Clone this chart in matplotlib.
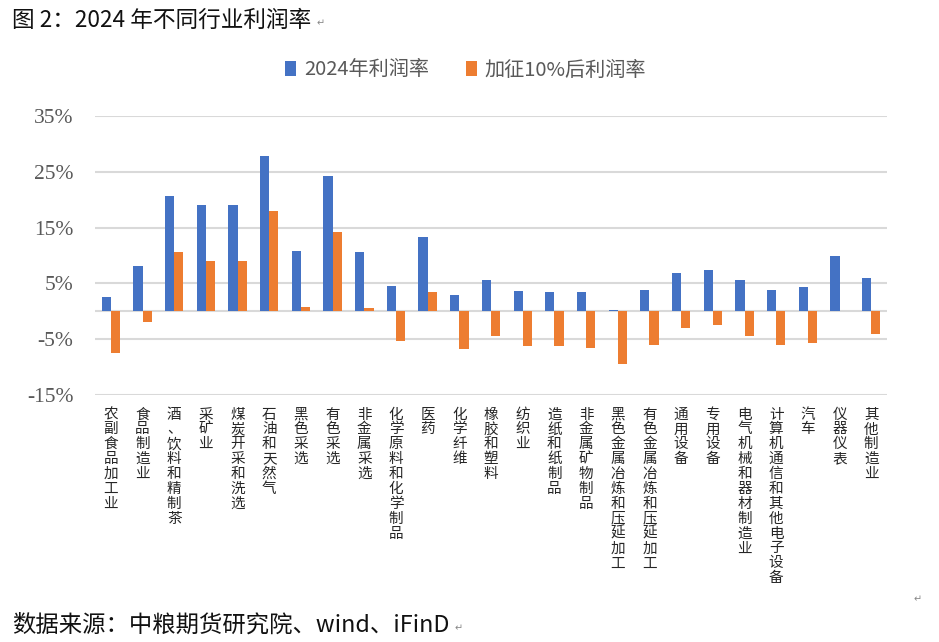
import matplotlib
matplotlib.use("Agg")
from matplotlib import pyplot as plt
import numpy as np

plt.rcParams['font.family'] = ['Noto Sans CJK SC', 'DejaVu Sans']

# industries (x axis)
industries = ["农副食品加工业", "食品制造业", "酒、饮料和精制茶", "采矿业", "煤炭开采和洗选",
              "石油和天然气", "黑色采选", "有色采选", "非金属采选", "化学原料和化学制品",
              "医药", "化学纤维", "橡胶和塑料", "纺织业", "造纸和纸制品",
              "非金属矿物制品", "黑色金属冶炼和压延加工", "有色金属冶炼和压延加工", "通用设备", "专用设备",
              "电气机械和器材制造业", "计算机通信和其他电子设备", "汽车", "仪器仪表", "其他制造业"]
# profit rate 2024, %
rate_2024 = [2.6, 8.1, 20.6, 19.0, 19.0, 27.9, 10.8, 24.2, 10.6, 4.5,
             13.4, 2.9, 5.6, 3.6, 3.4, 3.4, 0.2, 3.8, 6.8, 7.4,
             5.6, 3.8, 4.3, 10.0, 5.9]
# profit rate after 10% tariff, %
rate_tariff = [-7.4, -1.9, 10.6, 9.0, 9.0, 17.9, 0.8, 14.2, 0.6, -5.4,
               3.4, -6.8, -4.4, -6.3, -6.3, -6.5, -9.5, -6.1, -2.9, -2.4,
               -4.4, -6.0, -5.6, 0.1, -4.0]
yticks = [-15, -5, 5, 15, 25, 35]

fig = plt.figure(figsize=(9.39, 6.42), dpi=100)
ax = fig.add_axes([0.1012, 0.3847, 0.8435, 0.4346])

x = np.arange(len(industries))
w = 0.29
ax.bar(x - w/2, rate_2024, w, color="#4472C4", label="2024年利润率", zorder=3)
ax.bar(x + w/2, rate_tariff, w, color="#ED7D31", label="加征10%后利润率", zorder=3)

ax.set_xlim(-0.5, len(industries) - 0.5)
ax.set_ylim(-15, 35)
ax.set_yticks(yticks)
ax.set_yticklabels(["%d%%" % v for v in yticks], family="Liberation Serif",
                   fontsize=15.5, color="#595959")
ax.tick_params(axis="y", length=0, pad=15.5)
for v in yticks:
    ax.axhline(v, color="#D9D9D9", lw=1.5, zorder=1)
ax.axhline(0, color="#D9D9D9", lw=1.5, zorder=2)

ax.set_xticks(x)
ax.set_xticklabels(["\n".join(s) for s in industries], fontsize=10.5,
                   color="#262626", va="top", linespacing=1.08)
ax.tick_params(axis="x", length=0, pad=9)
for s in ax.spines.values():
    s.set_visible(False)

leg = fig.legend(loc="center", bbox_to_anchor=(0.496, 0.891), ncol=2, frameon=False,
                 fontsize=14.5, handlelength=0.55, handleheight=0.75, handletextpad=0.4,
                 columnspacing=1.8)
for t in leg.get_texts():
    t.set_color("#595959")

fig.text(0.013, 0.968, "图 2：2024 年不同行业利润率", fontsize=16.3, va="center", color="#111111")
fig.text(0.337, 0.963, "↵", fontsize=7, va="center", color="#888888", family="DejaVu Sans")
fig.text(0.013, 0.027, "数据来源：中粮期货研究院、wind、iFinD", fontsize=16.8, va="center", color="#111111")
fig.text(0.484, 0.022, "↵", fontsize=7, va="center", color="#888888", family="DejaVu Sans")
fig.text(0.973, 0.066, "↵", fontsize=7, va="center", color="#888888", family="DejaVu Sans")

fig.savefig("out.png", dpi=100)
